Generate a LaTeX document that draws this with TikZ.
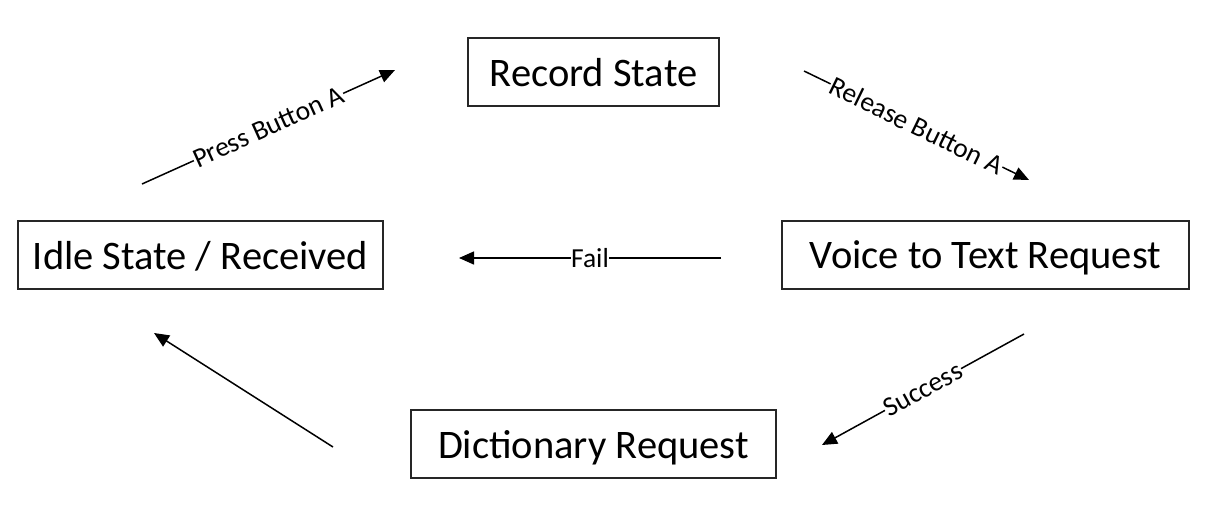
\documentclass[tikz,border=0pt]{standalone}
\usepackage{fontspec}
\setmainfont{Carlito}
\usetikzlibrary{arrows.meta}
\begin{document}
\begin{tikzpicture}[x=1pt,y=-1pt,
  statebox/.style={draw=black!85,line width=1.1pt,minimum height=68pt,inner sep=0pt,
    text depth=0pt,font=\fontsize{40.5}{48}\selectfont},
  conn/.style={line width=1.5pt,-{Triangle[length=15pt,width=13pt]}},
  lbl/.style={midway,sloped,fill=white,inner sep=0.5pt,font=\fontsize{27.5}{32}\selectfont}]
\useasboundingbox (0,0) rectangle (1208,520);
\node[statebox,minimum width=251pt] (rec) at (593.5,72) {Record State};
\node[statebox,minimum width=365pt] (idle) at (200.5,255) {Idle State / Received};
\node[statebox,minimum width=407pt] (v2t) at (985.5,255) {Voice to Text Request};
\node[statebox,minimum width=365pt] (dict) at (593.5,444) {Dictionary Request};
\coordinate (pa) at (142,184);
\coordinate (pb) at (395,70);
\coordinate (ra) at (804,71);
\coordinate (rb) at (1029,180);
\coordinate (fa) at (721,258);
\coordinate (fb) at (459,258);
\coordinate (sa) at (1024,334);
\coordinate (sb) at (822,445);
\coordinate (da) at (333,447);
\coordinate (db) at (154,333);
\draw[conn] (pa) -- node[lbl] {Press Button A} (pb);
\draw[conn] (ra) -- node[lbl] {Release Button A} (rb);
\draw[conn] (fa) -- node[lbl] {Fail} (fb);
\draw[conn] (sa) -- node[lbl] {Success} (sb);
\draw[conn] (da) -- (db);
\end{tikzpicture}
\end{document}
